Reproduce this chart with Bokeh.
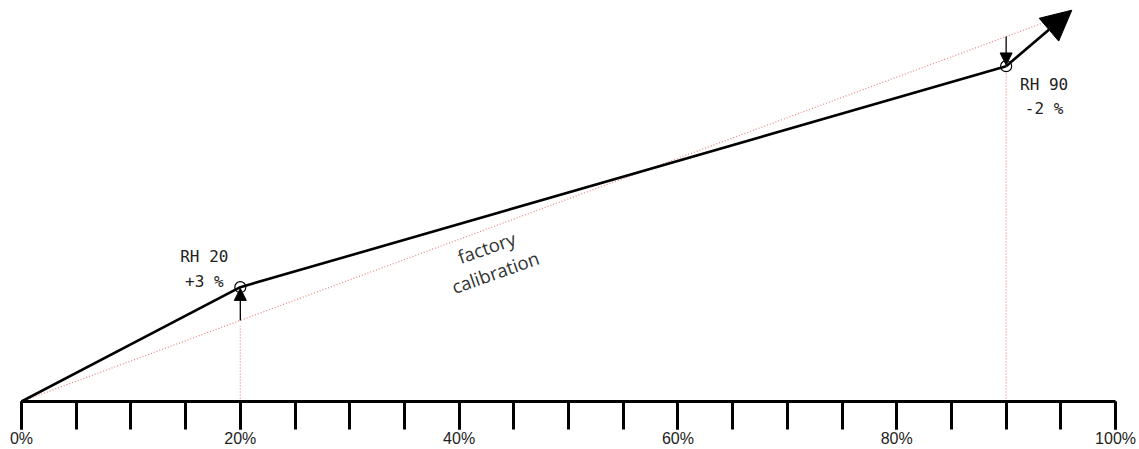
from bokeh.plotting import figure
from bokeh.models import (Range1d, FixedTicker, PrintfTickFormatter, Arrow, NormalHead,
                          ColumnDataSource)
from bokeh.core.properties import value
from bokeh.embed import file_html
from bokeh.resources import INLINE

# ---- data (percent units) ----
tick_major = [0, 20, 40, 60, 80, 100]
tick_minor = list(range(0, 101, 5))
factory_x = [0, 95]
factory_y = [0, 95]
calib_x = [0, 20, 90]
calib_y = [0, 28.2, 82.7]
ref_x = [20, 90]            # calibration points (RH)
ref_factory_y = [20, 90]    # factory value at those points
ref_calib_y = [28.2, 82.7]  # adjusted value
trend_end = (96.0, 96.5)
label_rh = ["RH 20", "RH 90"]
label_adj = ["+3 %", "-2 %"]
factory_label = "factory\ncalibration"
factory_label_pos = (42.9, 35.0)

p = figure(width=1139, height=449, x_range=Range1d(-1.92, 102.19), y_range=Range1d(0, 98.9),
           output_backend="svg", toolbar_location=None, min_border=0,
           min_border_left=0, min_border_right=0, min_border_top=0, min_border_bottom=0)
p.outline_line_color = None
p.grid.visible = False
p.yaxis.visible = False
p.background_fill_color = "white"

ax = p.xaxis[0]
ax.ticker = FixedTicker(ticks=tick_major, minor_ticks=tick_minor)
ax.formatter = PrintfTickFormatter(format="%d%%")
ax.bounds = (0, 100)
ax.axis_line_width = 3
ax.axis_line_color = "black"
ax.major_tick_in = 0
ax.major_tick_out = 28
ax.major_tick_line_width = 3
ax.major_tick_line_color = "black"
ax.minor_tick_in = 0
ax.minor_tick_out = 28
ax.minor_tick_line_width = 3
ax.minor_tick_line_color = "black"
ax.major_label_standoff = 0
ax.major_label_text_font = "Liberation Sans"
ax.major_label_text_font_size = "16px"
ax.major_label_text_color = "#222222"

red = "#e98a8a"
# factory calibration (dotted)
p.line(factory_x, factory_y, line_color=red, line_width=1.3, line_dash="1 2")
# vertical dotted guides
for x, yc, yf in zip(ref_x, ref_calib_y, ref_factory_y):
    top = min(yc, yf) - 1.3
    p.line([x, x], [0, top], line_color=red, line_width=1.3, line_dash="1 2")

# calibrated line
p.line(calib_x, calib_y, line_color="black", line_width=2.6)
p.add_layout(Arrow(end=NormalHead(size=30, fill_color="black", line_color="black"),
                   x_start=calib_x[-1], y_start=calib_y[-1],
                   x_end=trend_end[0], y_end=trend_end[1],
                   line_color="black", line_width=2.6))

# adjustment arrows
for x, yc, yf in zip(ref_x, ref_calib_y, ref_factory_y):
    d = 0.3 if yc > yf else -0.3
    p.add_layout(Arrow(end=NormalHead(size=12, fill_color="black", line_color="black", line_width=1),
                       x_start=x, y_start=yf, x_end=x, y_end=yc - d,
                       line_color="black", line_width=1.3))

p.scatter(ref_x, ref_calib_y, size=11, marker="circle", fill_color=None,
          line_color="black", line_width=1.2)

# labels
src = ColumnDataSource(dict(x=ref_x, y=ref_calib_y, rh=label_rh, adj=label_adj,
                            xo=[-36, 38], yo1=[-31, 18], yo2=[-6, 42]))
p.text(x="x", y="y", text="rh", x_offset="xo", y_offset="yo1", source=src,
       text_align="center", text_baseline="alphabetic",
       text_font=value("DejaVu Sans Mono"), text_font_size="16px", text_color="#222222")
p.text(x="x", y="y", text="adj", x_offset="xo", y_offset="yo2", source=src,
       text_align="center", text_baseline="alphabetic",
       text_font=value("DejaVu Sans Mono"), text_font_size="16px", text_color="#222222")

p.text(x=[factory_label_pos[0]], y=[factory_label_pos[1]], text=[factory_label],
       angle=0.34, text_align="center", text_baseline="middle",
       text_font=value("Open Sans"), text_font_size="18.5px", text_color="#333333",
       text_line_height=1.05)

open("out.html", "w").write(file_html(p, INLINE))
